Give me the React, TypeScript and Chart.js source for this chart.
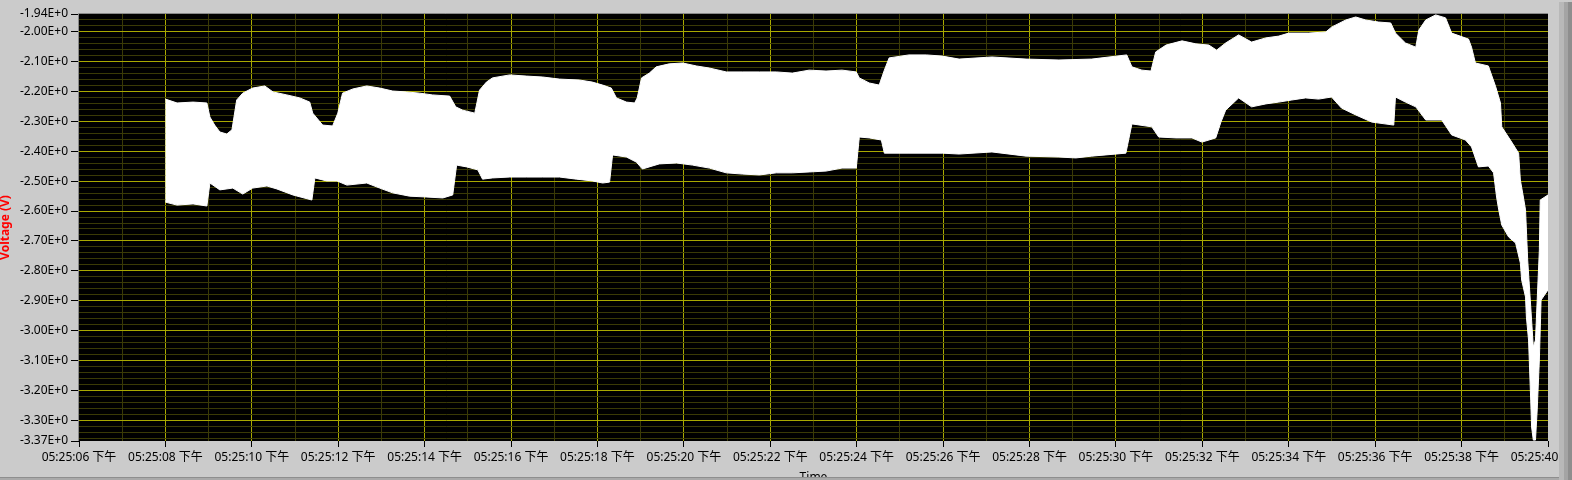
import React, { useEffect, useRef } from 'react';
import { Chart, registerables } from 'chart.js';

Chart.register(...registerables);

// Time in seconds after 05:25:00 (PM); voltage envelopes of the recorded signal
const upperTime = [
  8.0, 8.27, 8.64, 8.96, 9.03, 9.14, 9.26, 9.42, 9.54, 9.65,
  9.79, 10.02, 10.3, 10.49, 10.81, 11.11, 11.34, 11.41, 11.64, 11.87,
  11.99, 12.1, 12.34, 12.66, 12.96, 13.26, 13.58, 13.88, 14.18, 14.58,
  14.72, 14.88, 15.16, 15.27, 15.43, 15.57, 15.97, 16.36, 16.73, 17.12,
  17.58, 17.88, 18.12, 18.32, 18.44, 18.67, 18.86, 18.92, 19.02, 19.2,
  19.36, 19.66, 19.97, 20.29, 20.59, 20.98, 21.35, 21.75, 22.14, 22.51,
  22.9, 23.29, 23.66, 23.99, 24.06, 24.29, 24.52, 24.64, 24.75, 25.21,
  25.61, 25.98, 26.37, 27.13, 27.92, 28.68, 29.44, 29.84, 30.25, 30.37,
  30.6, 30.81, 30.92, 31.16, 31.53, 31.85, 32.15, 32.33, 32.54, 32.84,
  33.14, 33.47, 33.77, 34.0, 34.46, 34.86, 34.99, 35.32, 35.55, 35.78,
  36.08, 36.36, 36.47, 36.7, 36.94, 37.01, 37.17, 37.4, 37.63, 37.77,
  38.16, 38.23, 38.32, 38.62, 38.79, 38.9, 38.93, 39.16, 39.32, 39.36,
  39.43, 39.48, 39.53, 39.56, 39.62, 39.66, 39.71, 39.75, 39.8, 39.82,
  40.0,
];
const upperVolt = [
  -2.225, -2.238, -2.235, -2.238, -2.285, -2.312, -2.335, -2.342, -2.328, -2.228,
  -2.205, -2.188, -2.181, -2.201, -2.211, -2.221, -2.235, -2.272, -2.312, -2.315,
  -2.272, -2.205, -2.191, -2.181, -2.188, -2.198, -2.201, -2.205, -2.211, -2.215,
  -2.251, -2.262, -2.272, -2.195, -2.168, -2.154, -2.144, -2.148, -2.151, -2.158,
  -2.161, -2.168, -2.178, -2.188, -2.221, -2.235, -2.238, -2.221, -2.154, -2.138,
  -2.117, -2.107, -2.104, -2.114, -2.121, -2.134, -2.134, -2.134, -2.134, -2.138,
  -2.128, -2.131, -2.128, -2.134, -2.154, -2.171, -2.178, -2.128, -2.087, -2.077,
  -2.077, -2.081, -2.091, -2.084, -2.091, -2.094, -2.091, -2.084, -2.077, -2.117,
  -2.128, -2.131, -2.067, -2.044, -2.03, -2.04, -2.044, -2.061, -2.037, -2.01,
  -2.034, -2.02, -2.014, -2.004, -2.004, -2.0, -1.984, -1.96, -1.95, -1.96,
  -1.967, -1.97, -2.004, -2.037, -2.051, -1.994, -1.96, -1.943, -1.953, -2.004,
  -2.024, -2.051, -2.104, -2.114, -2.184, -2.238, -2.318, -2.369, -2.406, -2.496,
  -2.553, -2.596, -2.764, -2.831, -2.965, -3.055, -3.032, -2.898, -2.73, -2.563,
  -2.546,
];
const lowerTime = [
  8.0, 8.27, 8.64, 8.96, 9.03, 9.26, 9.56, 9.79, 10.02, 10.35,
  10.58, 10.95, 11.39, 11.46, 11.73, 11.97, 12.2, 12.66, 12.96, 13.26,
  13.65, 14.05, 14.42, 14.65, 14.74, 14.97, 15.23, 15.34, 15.57, 15.97,
  16.36, 16.73, 17.12, 17.51, 17.88, 18.12, 18.28, 18.35, 18.67, 18.9,
  19.04, 19.43, 19.83, 20.2, 20.59, 20.98, 21.35, 21.75, 22.14, 22.51,
  22.9, 23.29, 23.66, 23.99, 24.06, 24.29, 24.57, 24.64, 25.21, 25.98,
  26.37, 27.13, 27.92, 28.68, 29.07, 29.44, 30.23, 30.37, 30.83, 30.99,
  31.39, 31.76, 31.99, 32.31, 32.43, 32.54, 32.84, 33.14, 33.47, 33.77,
  34.07, 34.39, 34.69, 34.99, 35.22, 35.55, 35.92, 36.43, 36.47, 36.7,
  36.94, 37.17, 37.54, 37.77, 38.09, 38.23, 38.39, 38.62, 38.74, 38.81,
  38.86, 38.93, 39.09, 39.25, 39.36, 39.39, 39.48, 39.5, 39.55, 39.6,
  39.62, 39.66, 39.71, 39.75, 39.8, 39.84, 40.0,
];
const lowerVolt = [
  -2.57, -2.58, -2.576, -2.583, -2.506, -2.529, -2.523, -2.543, -2.523, -2.516,
  -2.526, -2.546, -2.563, -2.489, -2.499, -2.499, -2.513, -2.506, -2.523, -2.539,
  -2.55, -2.553, -2.556, -2.546, -2.446, -2.452, -2.462, -2.493, -2.489, -2.486,
  -2.486, -2.486, -2.486, -2.493, -2.499, -2.506, -2.503, -2.412, -2.419, -2.436,
  -2.459, -2.442, -2.439, -2.446, -2.456, -2.472, -2.476, -2.479, -2.472, -2.472,
  -2.469, -2.466, -2.456, -2.456, -2.352, -2.355, -2.362, -2.406, -2.406, -2.406,
  -2.409, -2.402, -2.416, -2.419, -2.422, -2.416, -2.406, -2.308, -2.318, -2.352,
  -2.355, -2.355, -2.369, -2.355, -2.302, -2.262, -2.221, -2.251, -2.241, -2.235,
  -2.228, -2.221, -2.225, -2.218, -2.255, -2.278, -2.302, -2.312, -2.218, -2.235,
  -2.251, -2.295, -2.295, -2.345, -2.362, -2.385, -2.452, -2.449, -2.472, -2.553,
  -2.596, -2.647, -2.687, -2.707, -2.774, -2.831, -2.888, -2.955, -3.032, -3.233,
  -3.323, -3.367, -3.367, -3.266, -3.099, -2.898, -2.864,
];

const xTickSeconds = [6, 8, 10, 12, 14, 16, 18, 20, 22, 24, 26, 28, 30, 32, 34, 36, 38, 40];
const xTickLabels = [
  '05:25:06 下午', '05:25:08 下午', '05:25:10 下午', '05:25:12 下午', '05:25:14 下午', '05:25:16 下午',
  '05:25:18 下午', '05:25:20 下午', '05:25:22 下午', '05:25:24 下午', '05:25:26 下午', '05:25:28 下午',
  '05:25:30 下午', '05:25:32 下午', '05:25:34 下午', '05:25:36 下午', '05:25:38 下午', '05:25:40 下午',
];
const yTickValues = [-1.94, -2.0, -2.1, -2.2, -2.3, -2.4, -2.5, -2.6, -2.7, -2.8, -2.9, -3.0, -3.1, -3.2, -3.3, -3.37];
const yTickLabels = [
  '-1.94E+0', '-2.00E+0', '-2.10E+0', '-2.20E+0', '-2.30E+0', '-2.40E+0', '-2.50E+0', '-2.60E+0',
  '-2.70E+0', '-2.80E+0', '-2.90E+0', '-3.00E+0', '-3.10E+0', '-3.20E+0', '-3.30E+0', '-3.37E+0',
];

const X_MIN = 6;
const X_MAX = 40;
const Y_MIN = -3.37;
const Y_MAX = -1.94;

const MAJOR = '#a9a900';
const MINOR = '#3a3a06';
const FONT = '"Noto Sans", "Noto Sans CJK SC", sans-serif';

const near = (a: number, b: number) => Math.abs(a - b) < 1e-6;

export default function App() {
  const ref = useRef<HTMLCanvasElement | null>(null);

  useEffect(() => {
    if (!ref.current) return;
    const yMinor: number[] = [];
    for (let i = 1; i <= 71; i++) yMinor.push(Math.round((-1.94 - i * 0.02) * 100) / 100);
    const yAll = Array.from(new Set([...yTickValues, ...yMinor.filter((v) => v > Y_MIN)])).sort((a, b) => b - a);
    const xAll: number[] = [];
    for (let s = X_MIN; s <= X_MAX; s++) xAll.push(s);

    // closed outline of the signal band: upper envelope forward, lower envelope backward
    const bandOutline = [
      ...upperTime.map((t, i) => ({ x: t, y: upperVolt[i] })),
      ...lowerTime.map((t, i) => ({ x: t, y: lowerVolt[i] })).reverse(),
    ];

    const bgPlugin = {
      id: 'lvBackground',
      beforeDraw(chart: any) {
        const { ctx, chartArea } = chart;
        ctx.save();
        ctx.fillStyle = '#cbcbcb';
        ctx.fillRect(0, 0, chart.width, chart.height);
        ctx.fillStyle = '#000000';
        ctx.fillRect(chartArea.left, chartArea.top, chartArea.right - chartArea.left, chartArea.bottom - chartArea.top);
        ctx.restore();
      },
      afterDraw(chart: any) {
        const { ctx, chartArea } = chart;
        ctx.save();
        ctx.strokeStyle = '#8a8a8a';
        ctx.lineWidth = 1;
        ctx.beginPath();
        ctx.moveTo(chartArea.left - 0.5, chartArea.bottom);
        ctx.lineTo(chartArea.left - 0.5, chartArea.top - 0.5);
        ctx.lineTo(chartArea.right, chartArea.top - 0.5);
        ctx.stroke();
        ctx.restore();
      },
    };

    const chart = new Chart(ref.current, {
      type: 'line',
      data: {
        datasets: [
          {
            label: 'Voltage',
            data: bandOutline,
            borderColor: '#ffffff',
            borderWidth: 1,
            backgroundColor: '#ffffff',
            pointRadius: 0,
            tension: 0,
            fill: 'shape',
          },
        ],
      },
      options: {
        animation: false,
        responsive: false,
        devicePixelRatio: 1,
        events: [],
        layout: { padding: { top: 14, right: 24, left: 0, bottom: 0 } },
        plugins: { legend: { display: false }, tooltip: { enabled: false } },
        scales: {
          x: {
            type: 'linear',
            min: X_MIN,
            max: X_MAX,
            afterBuildTicks: (scale: any) => {
              scale.ticks = xAll.map((v) => ({ value: v }));
            },
            afterFit: (scale: any) => {
              scale.height = 39;
              scale.paddingLeft = 0;
              scale.paddingRight = 0;
            },
            ticks: {
              autoSkip: false,
              maxRotation: 0,
              minRotation: 0,
              padding: 3,
              color: '#000000',
              font: { family: FONT, size: 12 },
              callback: (value: any) => {
                const idx = xTickSeconds.findIndex((s) => near(s, Number(value)));
                return idx >= 0 ? xTickLabels[idx] : '';
              },
            },
            grid: {
              color: (ctx: any) => {
                const v = ctx.tick ? ctx.tick.value : 0;
                if (near(v, X_MIN) || near(v, X_MAX)) return 'rgba(0,0,0,0)';
                return Math.round(v) % 2 === 0 ? MAJOR : MINOR;
              },
              tickColor: (ctx: any) => {
                const v = ctx.tick ? ctx.tick.value : 1;
                return Math.round(v) % 2 === 0 ? '#000000' : 'rgba(0,0,0,0)';
              },
              tickLength: 6,
              lineWidth: 1,
            },
            border: { display: false },
            title: {
              display: true,
              text: 'Time',
              color: '#000000',
              font: { family: FONT, size: 12 },
              padding: { top: 0, bottom: -5 },
            },
          },
          y: {
            type: 'linear',
            min: Y_MIN,
            max: Y_MAX,
            afterBuildTicks: (scale: any) => {
              scale.ticks = yAll.map((v) => ({ value: v }));
            },
            afterFit: (scale: any) => {
              scale.width = 79;
              scale.paddingTop = 0;
              scale.paddingBottom = 0;
            },
            ticks: {
              autoSkip: false,
              padding: 3,
              color: '#000000',
              font: { family: FONT, size: 12 },
              callback: (value: any) => {
                const idx = yTickValues.findIndex((s) => near(s, Number(value)));
                return idx >= 0 ? yTickLabels[idx] : '';
              },
            },
            grid: {
              color: (ctx: any) => {
                const v = ctx.tick ? ctx.tick.value : 0;
                if (near(v, Y_MIN) || near(v, Y_MAX)) return 'rgba(0,0,0,0)';
                return yTickValues.some((s) => near(s, v)) ? MAJOR : MINOR;
              },
              tickColor: (ctx: any) => {
                const v = ctx.tick ? ctx.tick.value : 0;
                return yTickValues.some((s) => near(s, v)) ? '#000000' : 'rgba(0,0,0,0)';
              },
              tickLength: 8,
              lineWidth: 1,
            },
            border: { display: false },
            title: {
              display: true,
              text: 'Voltage (V)',
              color: '#ff0000',
              font: { family: FONT, size: 12, weight: 'bold' },
              padding: { top: -2, bottom: 0 },
            },
          },
        },
      },
      plugins: [bgPlugin],
    } as any);

    return () => chart.destroy();
  }, []);

  return (
    <div style={{ position: 'fixed', left: 0, top: 0, width: 1572, height: 480, background: '#cbcbcb', overflow: 'hidden' }}>
      <canvas ref={ref} width={1572} height={480} style={{ display: 'block', width: 1572, height: 480 }} />
      <div
        style={{
          position: 'absolute',
          left: 1559,
          top: 2,
          width: 13,
          height: 478,
          background: 'linear-gradient(to right, #b8b8b8 0px, #b8b8b8 5px, #a4a4a4 5px, #a4a4a4 9px, #8e8e8e 9px, #8e8e8e 13px)',
        }}
      />
      <div style={{ position: 'absolute', left: 0, top: 477, width: 1559, height: 3, background: '#a9a9a9', borderTop: '1px solid #8e8e8e', boxSizing: 'border-box' }} />
    </div>
  );
}
